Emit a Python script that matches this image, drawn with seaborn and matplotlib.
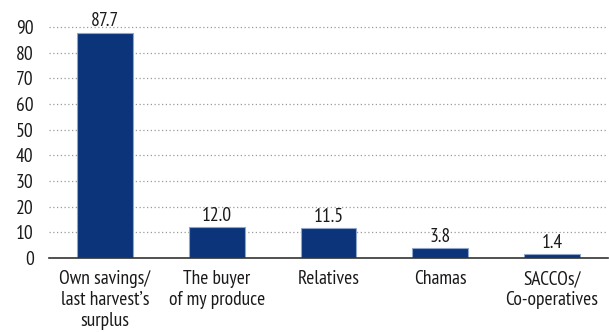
import matplotlib
matplotlib.use("Agg")
import matplotlib.pyplot as plt
import seaborn as sns
import pandas as pd

categories = ["Own savings/\nlast harvest\u2019s\nsurplus", "The buyer\nof my produce",
              "Relatives", "Chamas", "SACCOs/\nCo-operatives"]
values = [87.7, 12.0, 11.5, 3.8, 1.4]
yticks = [0, 10, 20, 30, 40, 50, 60, 70, 80, 90]

sns.set_theme(style="white")
plt.rcParams["font.family"] = ["PT Sans Narrow", "DejaVu Sans"]

df = pd.DataFrame({"source": categories, "share": values})

fig = plt.figure(figsize=(6.09, 3.32), dpi=100)
ax = fig.add_axes([49 / 609, 74 / 332, 559 / 609, (258 - 14) / 332])

sns.barplot(data=df, x="source", y="share", ax=ax, color="#0b347a",
            saturation=1, width=0.5, edgecolor="#8fa6cc", linewidth=0.8, zorder=3)

ax.set_xlim(-0.5, 4.5)
ax.set_ylim(0, 95)
ax.set_yticks(yticks)
ax.set_xlabel("")
ax.set_ylabel("")
ax.grid(axis="y", linestyle=(0, (1, 2)), color="#9a9a9a", linewidth=0.9, zorder=0)
for s in ["top", "right", "left"]:
    ax.spines[s].set_visible(False)
ax.spines["bottom"].set_color("#333333")
ax.spines["bottom"].set_linewidth(1.2)
ax.spines["bottom"].set_zorder(4)
ax.tick_params(axis="both", length=0, labelsize=14, colors="#1a1a1a")
ax.tick_params(axis="y", pad=11)
ax.tick_params(axis="x", pad=9)
for lab in ax.get_xticklabels():
    lab.set_linespacing(1.2)

for i, v in enumerate(values):
    ax.text(i, v + 1.0, f"{v:.1f}", ha="center", va="bottom", fontsize=14, color="#1a1a1a")

fig.savefig("out.png", dpi=100)
